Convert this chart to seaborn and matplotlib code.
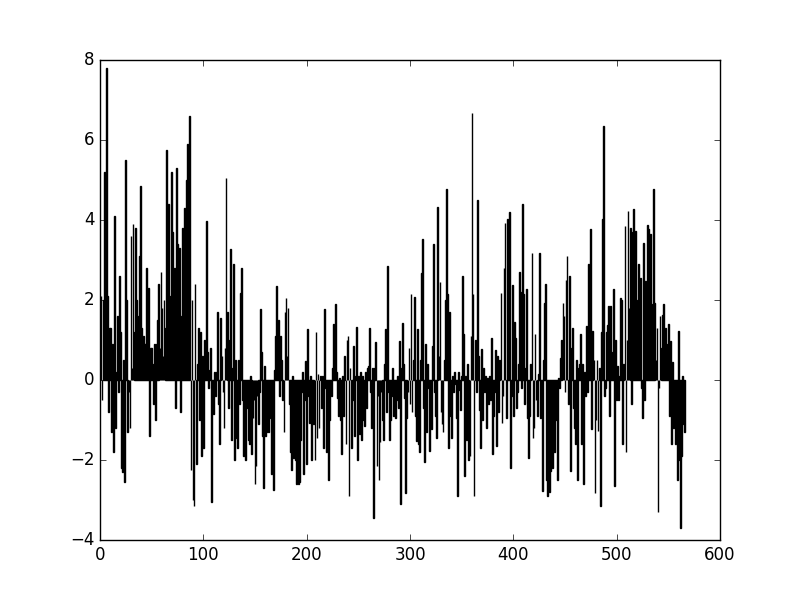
import numpy as np
import pandas as pd
import matplotlib
matplotlib.use('Agg')
import matplotlib.pyplot as plt
import seaborn as sns

# values, one list per stretch of 100 bars
vals_000_099 = [
    0.3, 2.1, -0.5, 2.0, 5.2, 1.5, 7.8, 2.1, -0.8, 1.3,
    1.3, -1.3, 0.9, -1.8, 4.1, -1.2, 0.2, 1.6, -0.3, 2.6,
    1.2, -2.2, -2.3, 0.5, -2.55, 5.5, 2.0, -1.3, -0.3, -1.2,
    3.6, 0.3, 3.9, 1.2, 3.8, 2.0, 0.8, 1.6, 3.1, 4.85,
    1.3, 0.9, 1.1, 0.9, 0.9, 2.8, 0.9, 2.3, -1.4, 0.8,
    0.8, 0.4, -0.6, 0.9, -1.0, 0.9, 1.5, 2.4, 0.8, 2.7,
    1.8, 0.6, 2.0, 1.3, 5.75, 3.2, 4.4, 2.1, 1.5, 5.2,
    3.7, 2.5, 2.8, -0.7, 5.3, 3.4, 1.5, 3.3, -0.8, 1.6,
    3.8, 2.6, 4.3, 3.9, 5.0, 5.9, 2.8, 6.6, -2.25, 2.0,
    -3.0, -3.15, 2.4, -2.1, 0.4, 1.3, -1.0, 1.2, -1.9, 0.6,
]
vals_100_199 = [
    -1.7, 1.0, 0.3, 3.97, 0.7, -0.2, 0.25, 0.8, -3.05, -0.3,
    -0.85, 0.2, -0.4, 0.2, 1.7, -0.6, -1.6, 1.55, 0.6, -0.3,
    -1.2, 0.8, 5.05, 1.7, -0.7, 1.0, 3.27, -1.5, 0.3, 2.9,
    -2.0, 0.5, -1.45, -1.7, 0.5, -0.6, 2.18, 2.8, -0.5, -1.9,
    -1.0, -2.0, -0.4, -0.7, -1.5, -1.6, 0.1, -1.85, -0.95, -0.5,
    -2.6, -2.15, -0.4, -1.1, -0.3, 1.77, 0.7, -1.4, -2.7, 0.35,
    -1.4, -1.3, -0.6, -1.3, -0.3, -0.95, -2.35, -0.5, -2.75, 0.25,
    1.1, 2.35, 0.4, 1.5, -0.4, 1.1, 0.5, -0.5, -1.3, 1.7,
    2.05, 0.6, 1.8, -0.6, -1.8, -2.25, 0.1, -1.95, -0.9, -2.0,
    -2.6, -1.9, -2.6, -2.55, -1.5, -0.3, 0.2, -2.35, -0.5, 0.47,
]
vals_200_299 = [
    -2.1, 1.27, -0.4, -1.07, 0.1, -2.0, -0.6, -1.1, -2.0, 1.2,
    -1.45, 0.14, -1.2, 0.1, -0.7, 0.1, -1.7, 1.77, -0.2, -1.8,
    -0.6, -2.5, -1.0, -0.3, -0.4, 0.3, 1.4, 0.55, 1.9, 0.2,
    -0.45, -0.9, 0.05, -1.0, -1.85, 0.1, -0.9, 0.6, -1.6, 1.0,
    1.1, -2.9, 0.3, -1.7, -0.5, 0.85, -1.4, 0.1, 1.33, -2.0,
    0.1, -1.35, 0.2, -1.5, 0.1, -1.0, -1.15, 0.2, -0.7, 0.3,
    0.35, 1.3, -0.3, -1.2, 0.3, -3.45, 0.3, 0.95, -2.15, -0.4,
    -2.5, -1.55, -0.3, -1.0, -1.5, 0.4, 1.27, -0.8, 2.85, -0.3,
    -1.5, -1.0, -0.4, 0.3, -0.9, -0.6, -0.95, -0.5, 0.1, -0.7,
    0.97, -3.1, 0.3, 1.43, 0.4, -0.44, -2.82, -0.95, -0.3, 0.8,
]
vals_300_399 = [
    -0.6, 2.15, -0.8, 0.5, 2.07, -0.9, -1.52, 1.27, -1.6, -1.8,
    0.5, 2.68, 3.52, -0.7, -2.06, 0.9, -1.3, 0.4, -0.2, -1.78,
    -0.6, -1.23, 0.85, 3.4, -0.3, -0.9, -1.45, 4.33, 0.6, 2.45,
    -0.8, -1.1, -1.3, 0.5, 2.0, 4.77, 2.15, -1.7, 1.7, -0.9,
    -1.45, 0.1, -0.3, 0.2, -0.1, -0.95, -2.9, 0.2, -0.25, -0.75,
    0.1, 2.6, 1.15, -2.4, 0.1, -1.5, 0.4, -2.0, -1.9, 1.1,
    6.68, 2.15, -2.9, 1.0, -0.3, 4.5, 0.6, -0.75, -1.7, 0.77,
    -1.0, 0.3, -0.3, 0.1, -1.2, 0.05, -0.6, 0.1, -0.5, 1.05,
    -1.86, -0.9, -0.3, 0.75, -1.65, 0.6, -0.8, 0.5, 2.18, -1.07,
    -0.4, 2.8, 3.93, -0.95, 4.02, 3.1, 4.2, -2.2, -0.4, 2.37,
]
vals_400_499 = [
    -0.9, 1.45, 1.06, -0.7, -0.3, 0.4, 2.7, 2.2, -0.2, 4.4,
    2.15, -0.6, 0.3, 2.27, -0.95, -1.94, -0.9, 0.4, 3.18, -1.45,
    -1.2, 1.15, -0.5, -0.9, 0.15, 3.18, -0.95, -0.3, -2.77, 0.5,
    1.93, 2.4, -2.5, -2.9, -1.5, -2.8, -2.27, -1.5, -2.2, -1.1,
    -1.8, -0.3, -1.0, -2.5, 0.05, -0.2, 0.55, 1.0, 1.93, 1.6,
    -0.3, 2.5, 3.1, -0.6, 2.6, -2.27, 0.8, 1.3, -0.7, -1.2,
    -1.6, 0.5, -2.5, 0.3, 0.4, 1.15, -1.6, 0.4, -2.6, 0.2,
    -0.4, 1.35, -0.3, 2.9, 0.8, 3.77, -1.23, 1.22, 0.5, -2.83,
    -1.0, 0.5, -1.27, 0.3, -3.15, 1.2, 4.02, 6.35, -0.4, -0.2,
    1.2, 1.38, 1.85, -0.9, 1.85, 0.7, 0.6, 2.27, -2.65, 1.0,
]
vals_500_566 = [
    -0.5, 0.35, -0.5, 0.1, 2.05, 2.0, -1.6, 0.4, 3.85, -1.8,
    1.0, 4.22, 1.8, 3.8, -0.6, 3.7, 4.27, 1.2, 3.72, 2.0,
    1.5, 2.9, 0.8, 2.55, -0.2, -0.95, 3.43, -0.5, 2.48, 1.2,
    3.88, 3.77, 1.5, 3.65, 1.9, 0.9, 4.77, 1.93, 0.5, 1.3,
    -3.3, -0.2, 1.6, 0.8, 1.63, 1.9, 0.6, 1.3, 0.3, 0.9,
    1.4, -0.9, 0.98, -1.6, 0.45, -1.2, -0.1, -1.6, -0.7, -2.5,
    1.22, -2.0, -3.7, -1.9, 0.1, -1.1, -1.3,
]

values = (vals_000_099 + vals_100_199 + vals_200_299 +
          vals_300_399 + vals_400_499 + vals_500_566)
df = pd.DataFrame({'x': np.arange(len(values)), 'y': values})

plt.style.use('classic')
fig = plt.figure(figsize=(8, 6), dpi=100)
ax = fig.add_axes([0.125, 0.1, 0.775, 0.8])

sns.barplot(data=df, x='x', y='y', native_scale=True, errorbar=None,
            color='black', edgecolor='black', linewidth=1.0, width=0.8,
            saturation=1, ax=ax)

ax.set_xlim(0, 600)
ax.set_ylim(-4, 8)
ax.set_xticks([0, 100, 200, 300, 400, 500, 600])
ax.set_yticks([-4, -2, 0, 2, 4, 6, 8])
ax.set_xlabel('')
ax.set_ylabel('')

fig.savefig('out.png', dpi=100, facecolor='white')
